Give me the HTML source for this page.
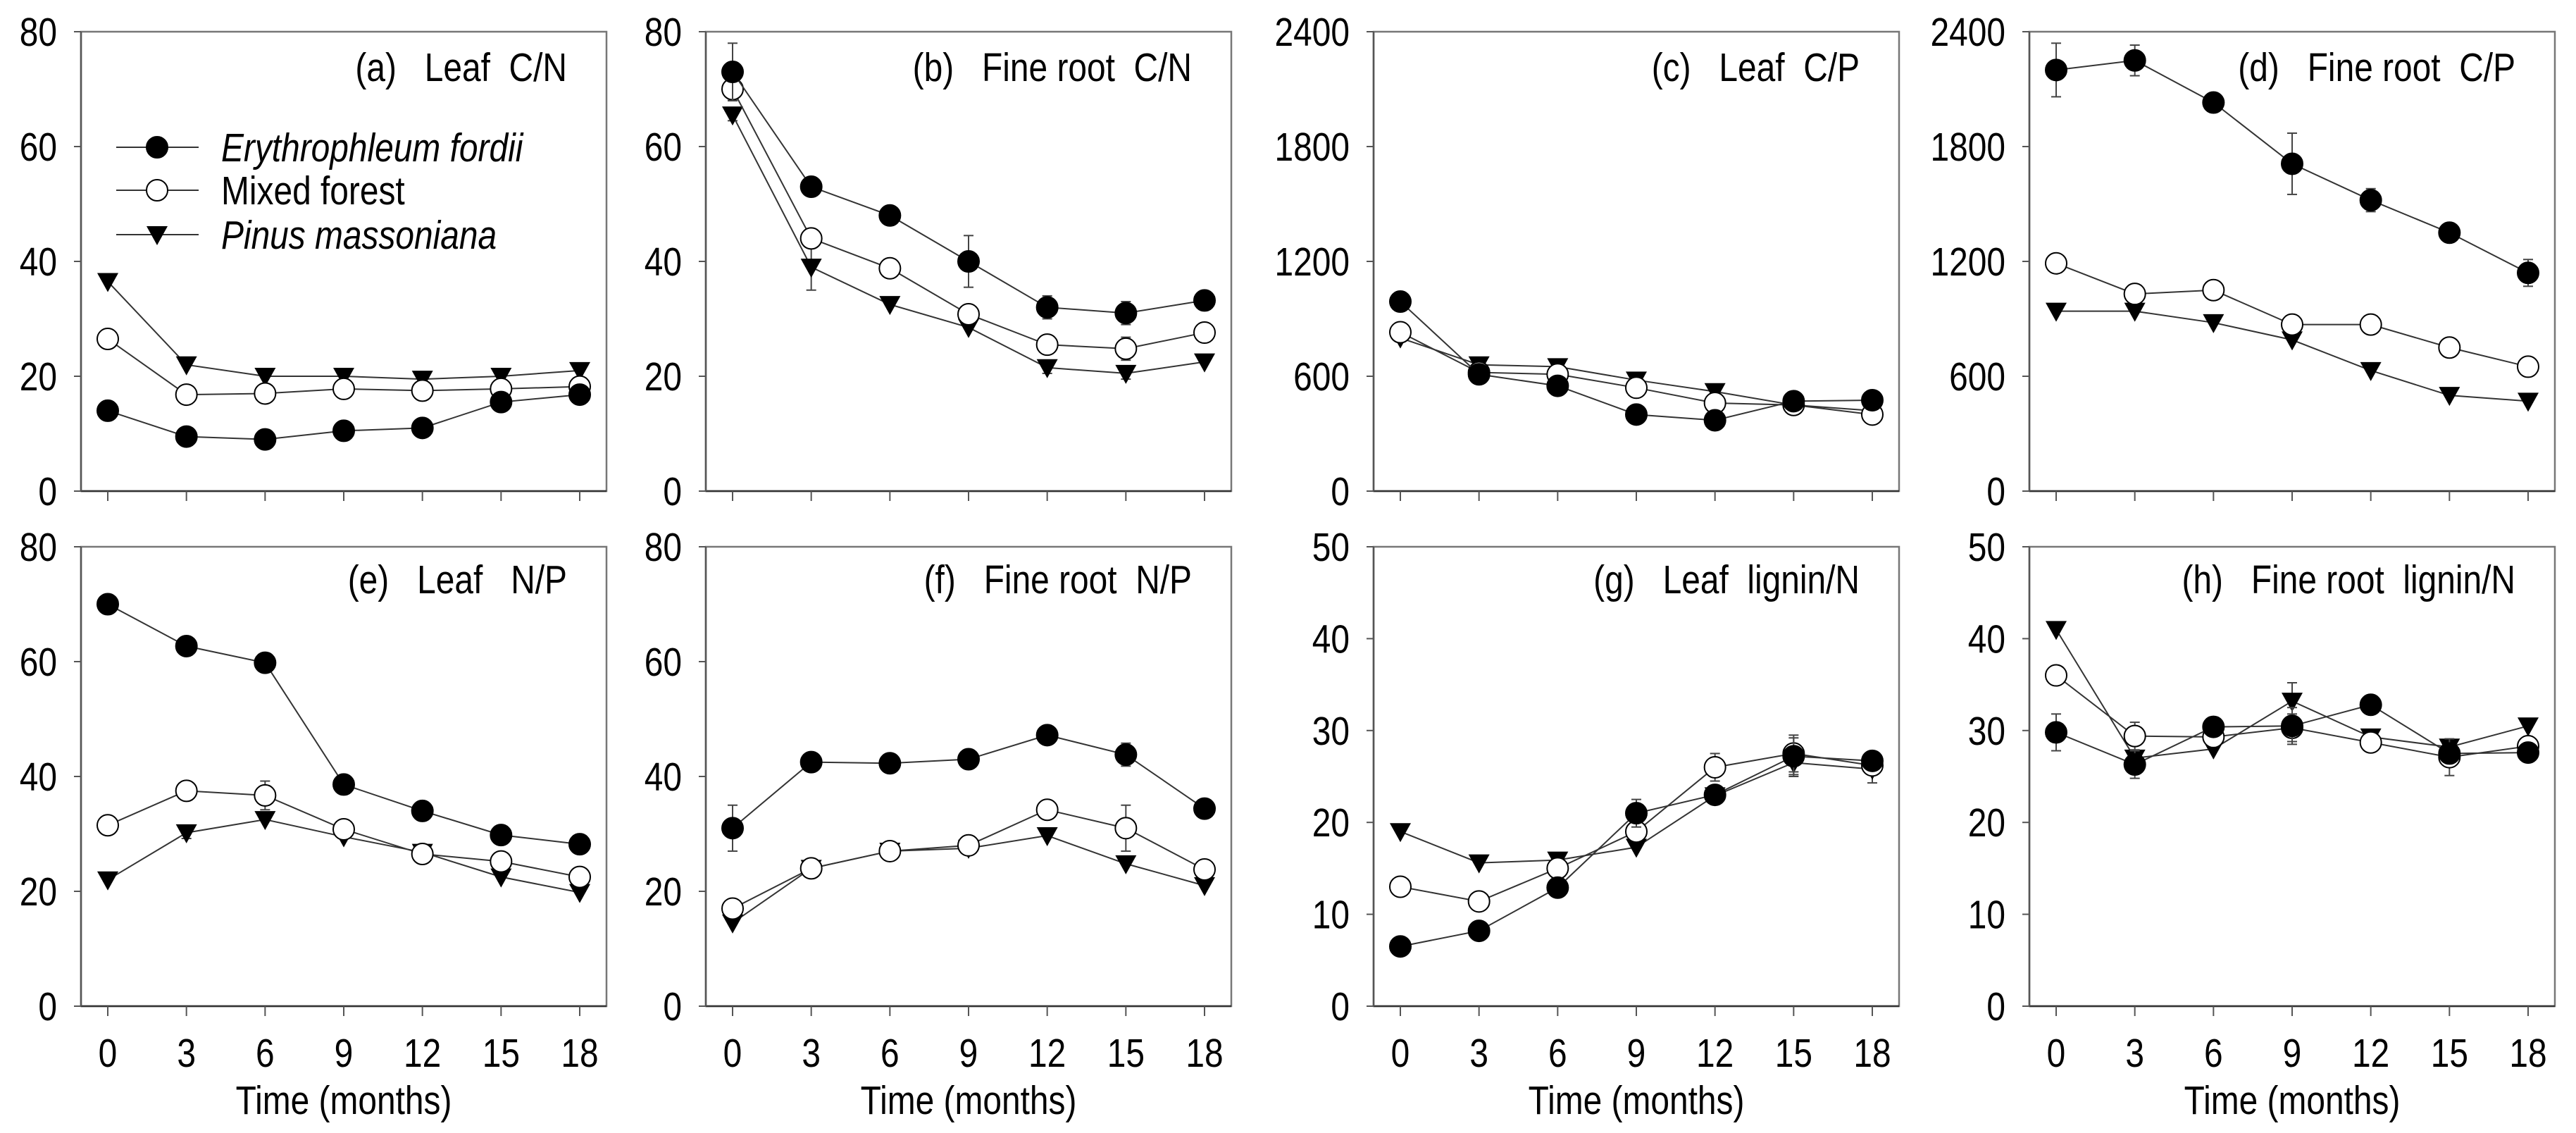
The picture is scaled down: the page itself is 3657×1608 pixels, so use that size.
<!DOCTYPE html>
<html><head><meta charset="utf-8"><style>
html,body{margin:0;padding:0;background:#fff;}
svg{display:block;font-family:"Liberation Sans",Arial,sans-serif;}
text{white-space:pre;}
</style></head><body>
<svg id="chart" width="3657" height="1608" viewBox="0 0 3657 1608" xmlns="http://www.w3.org/2000/svg"></svg>
<script>
const months = [0,3,6,9,12,15,18];
const seriesNames = ["Erythrophleum fordii","Mixed forest","Pinus massoniana"];
const titles = ["(a)   Leaf  C/N","(b)   Fine root  C/N","(c)   Leaf  C/P","(d)   Fine root  C/P","(e)   Leaf   N/P","(f)   Fine root  N/P","(g)   Leaf  lignin/N","(h)   Fine root  lignin/N"];
const yMaxes = [80,80,2400,2400,80,80,50,50];
const yTickLabels = [[0,20,40,60,80],[0,20,40,60,80],[0,600,1200,1800,2400],[0,600,1200,1800,2400],[0,20,40,60,80],[0,20,40,60,80],[0,10,20,30,40,50],[0,10,20,30,40,50]];
const efVals = [
 [14,9.5,9,10.5,11,15.5,16.8],
 [73,53,48,40,32,31,33.2],
 [990,610,550,400,370,470,475],
 [2200,2250,2030,1710,1520,1350,1140],
 [70,62.7,59.8,38.6,34,29.8,28.2],
 [31,42.5,42.3,43,47.2,43.8,34.4],
 [6.5,8.2,12.9,21,23,27.2,26.7],
 [29.8,26.3,30.4,30.5,32.8,27.5,27.6]];
const mixVals = [
 [26.5,16.8,17,17.8,17.5,17.8,18.2],
 [70,44,38.8,30.8,25.5,24.8,27.6],
 [830,620,610,540,460,450,400],
 [1190,1030,1050,870,870,750,650],
 [31.5,37.5,36.7,30.8,26.5,25.2,22.5],
 [17,24,27,28,34.2,31,23.8],
 [13,11.4,15,19,26,27.5,26.2],
 [36,29.4,29.3,30.3,28.7,27.1,28.3]];
const pinVals = [
 [36.5,22,20,20,19.5,20,21],
 [65.5,39,32.5,28.5,21.5,20.5,22.5],
 [800,660,650,580,520,450,420],
 [940,940,880,790,630,500,470],
 [22,30.2,32.5,29.5,26.8,22.5,19.8],
 [14.5,24,27,27.5,29.7,24.8,21],
 [19,15.6,15.9,17.3,22.9,26.5,25.8],
 [41,27,28,33.2,29.3,28.2,30.5]];
const efErr = [
 [0,0,0,0,0,0,0],[5,1.5,1,4.5,2,2,0],[0,0,0,0,0,0,0],[140,80,0,160,60,50,70],
 [1,0,1.5,0,1.5,1,0],[4,0,0,0,0,2,0],[0,0,0,1.5,0,2,0],[2,1.5,1,2,1,0,0]];
const mixErr = [
 [0,0,0,0,0,0,0],[2,1,1.5,0,1,2,0],[0,0,0,0,0,0,0],[0,0,0,0,0,0,0],
 [0,1.5,2.5,0,0,0,0],[0,1.5,0,0,0,4,0],[0,0,0,0,1.5,2,0],[0,1.5,0,1.5,0,2,0]];
const pinErr = [
 [0,0,0,0,0,0,0],[1,4,0,0,1,1,0],[0,0,0,0,0,0,0],[0,0,0,0,0,0,0],
 [0,1,0,0,1,0,0],[0,1.5,0,0,0,0,0],[0,0,0,0,0,1.5,1.5],[0,0,0,2,0,0,0]];

const NS="http://www.w3.org/2000/svg";
const svg=document.getElementById('chart');
const lefts=[115,1002,1950,2881];
const rows=[{top:45,bottom:697},{top:776,bottom:1428}];
const PW=746;
const FS=57, SX=0.84;
function mk(tag,attrs,parent){const e=document.createElementNS(NS,tag);for(const k in attrs)e.setAttribute(k,attrs[k]);(parent||svg).appendChild(e);return e;}
function txt(parent,x,y,str,anchor,extra){
  const t=mk('text',Object.assign({x:0,y:0,'font-size':FS,'text-anchor':anchor,fill:'#000',transform:`translate(${x},${y}) scale(${SX},1)`},extra||{}),parent);
  t.textContent=str;
  return t;
}

for(let p=0;p<8;p++){
  const r=Math.floor(p/4), c=p%4;
  const L=lefts[c], R=L+PW, T=rows[r].top, B=rows[r].bottom;
  const g=mk('g',{});
  
  
  const xs=m=>L+38+(m/18)*670;
  const ys=v=>B-(v/yMaxes[p])*(B-T);
  const frame=mk('rect',{x:L,y:T,width:PW,height:B-T,fill:'none',stroke:'#777','stroke-width':2.5},g);
  
  
  mk('line',{x1:L,x2:R,y1:B,y2:B,stroke:'#333','stroke-width':2.5},g);
  mk('line',{x1:L,x2:L,y1:T,y2:B,stroke:'#555','stroke-width':2.5},g);
  yTickLabels[p].forEach(v=>{
    const y=ys(v);
    mk('line',{x1:L-10,x2:L,y1:y,y2:y,stroke:'#555','stroke-width':2},g);
    const t=txt(g,L-34,y+20,String(v),'end');
    
    
  });
  months.forEach(m=>{
    const x=xs(m);
    mk('line',{x1:x,x2:x,y1:B,y2:B+14,stroke:'#555','stroke-width':2},g);
    if(r===1){
      const t=txt(g,x,B+86,String(m),'middle');
      
      
    }
  });
  if(r===1){
    const t=txt(g,(xs(0)+xs(18))/2,B+153,'Time (months)','middle');
    
    
  }
  const tt=txt(g,L+690,r===0?T+70:T+66,titles[p],'end');
  
  
  const sets=[[pinVals[p],pinErr[p],'tri'],[mixVals[p],mixErr[p],'open'],[efVals[p],efErr[p],'fill']];
  sets.forEach(([vals,errs,kind])=>{
    const sg=mk('g',{},g);
    
    
    mk('polyline',{points:vals.map((v,i)=>xs(months[i])+','+ys(v)).join(' '),fill:'none',stroke:'#333','stroke-width':2},sg);
    vals.forEach((v,i)=>{
      const x=xs(months[i]),y=ys(v),e=errs[i];
      if(e>0){
        mk('line',{x1:x,x2:x,y1:ys(v+e),y2:ys(v-e),stroke:'#444','stroke-width':2},sg);
        mk('line',{x1:x-7,x2:x+7,y1:ys(v+e),y2:ys(v+e),stroke:'#444','stroke-width':2},sg);
        mk('line',{x1:x-7,x2:x+7,y1:ys(v-e),y2:ys(v-e),stroke:'#444','stroke-width':2},sg);
      }
      let mkr;
      if(kind==='tri') mkr=mk('polygon',{points:`${x-15},${y-12} ${x+15},${y-12} ${x},${y+15}`,fill:'#000'},sg);
      else mkr=mk('circle',{cx:x,cy:y,r:15,fill:kind==='fill'?'#000':'#fff',stroke:'#000','stroke-width':2},sg);
      
      
    });
  });
  if(p===0){
    const lg=mk('g',{},g);
    
    
    const ly=[209,270,333];
    ['fill','open','tri'].forEach((k,i)=>{
      const y=ly[i];
      mk('line',{x1:165,x2:282,y1:y,y2:y,stroke:'#333','stroke-width':2},lg);
      if(k==='tri') mk('polygon',{points:`208,${y-12} 238,${y-12} 223,${y+15}`,fill:'#000'},lg);
      else mk('circle',{cx:223,cy:y,r:15,fill:k==='fill'?'#000':'#fff',stroke:'#000','stroke-width':2},lg);
      const t=txt(lg,314,y+20,seriesNames[i],'start',{'font-style':i===1?'normal':'italic'});
      
      
    });
  }
}
</script>
</body></html>
